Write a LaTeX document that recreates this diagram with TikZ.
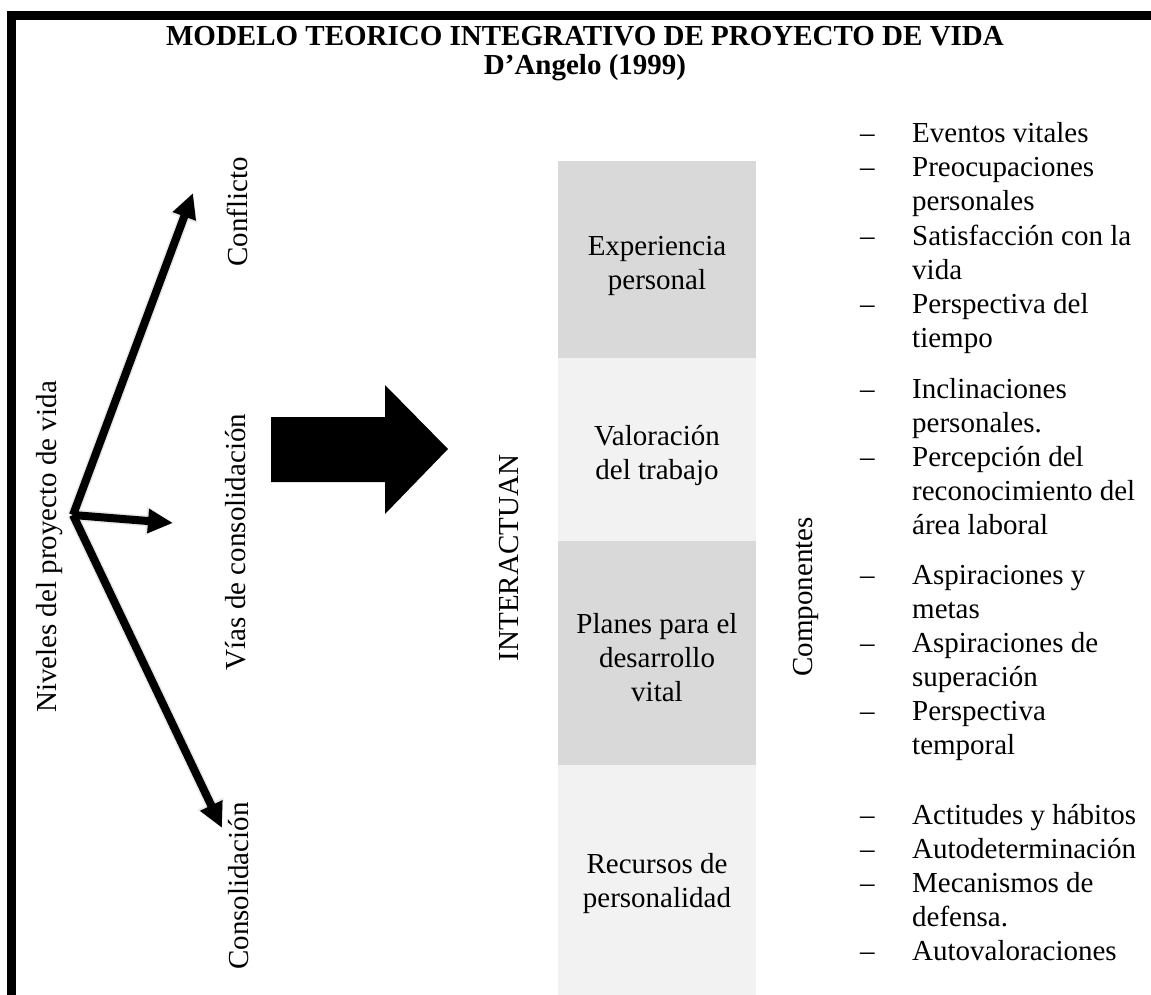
\documentclass[tikz,border=0pt]{standalone}
\usepackage{fontspec}
\setmainfont{Liberation Serif}[BoldFont={Liberation Serif Bold}]
\usetikzlibrary{arrows.meta}
\definecolor{boxdark}{HTML}{D9D9D9}
\definecolor{boxlight}{HTML}{F2F2F2}
\newcommand{\lines}[1]{\begin{tabular}[t]{@{}l@{}}#1\end{tabular}}
\begin{document}
\begin{tikzpicture}[x=1pt,y=-1pt,
  txt/.style={font=\fontsize{29}{34}\selectfont, inner sep=0pt},
  vlabel/.style={txt, rotate=90, anchor=base},
  panel/.style={minimum width=198pt, inner sep=0pt, draw=none},
  plabel/.style={txt, align=center},
  dashm/.style={txt, anchor=base west},
  itemt/.style={txt, anchor=base west},
  titlet/.style={font=\bfseries\fontsize{29}{26}\selectfont, inner sep=0pt, anchor=base},
  thinarrow/.style={line width=8pt, -{Triangle[length=25pt,width=23pt]}},
  shadowarrow/.style={line width=11pt, draw=black!20, -{Triangle[length=27pt,width=27pt]}}
]
\useasboundingbox (0,0) rectangle (1151,995);
% frame
\fill (7,11) rectangle (16,995);
\fill (7,11) rectangle (1151,20);
% title
\node[titlet] (title) at (585,46) {MODELO TEORICO INTEGRATIVO DE PROYECTO DE VIDA};
\node[titlet] (author) at (585,75) {D’Angelo (1999)};
% left labels
\node[vlabel] (niveles) at (56,547) {Niveles del proyecto de vida};
\node[vlabel] (conflicto) at (247,212) {Conflicto};
\node[vlabel] (vias) at (245,542) {Vías de consolidación};
\node[vlabel] (consol) at (248,886) {Consolidación};
% arrows
\coordinate (O) at (73,515);
\coordinate (tC) at (193,193);
\coordinate (tV) at (173,523);
\coordinate (tS) at (222,828);
\begin{scope}[opacity=0.45, xshift=-3pt, yshift=-3pt]
\draw[shadowarrow] (O) -- (tC);
\draw[shadowarrow] (O) -- (tV);
\draw[shadowarrow] (O) -- (tS);
\end{scope}
\draw[thinarrow] (O) -- (tC);
\draw[thinarrow] (O) -- (tV);
\draw[thinarrow] (O) -- (tS);
% big arrow
\fill (271,417) -- (385,417) -- (385,385) -- (448,449) -- (385,514) -- (385,482) -- (271,482) -- cycle;
% middle labels
\node[vlabel] (inter) at (518,558) {INTERACTUAN};
\node[vlabel] (comp) at (812,597) {Componentes};
% panels
\node[panel, fill=boxdark, minimum height=197pt] (b1) at (657,259.5) {};
\node[panel, fill=boxlight, minimum height=183pt] (b2) at (657,449.5) {};
\node[panel, fill=boxdark, minimum height=224pt] (b3) at (657,653) {};
\node[panel, fill=boxlight, minimum height=230pt] (b4) at (657,880) {};
\node[plabel] (l1) at ([yshift=-6pt]b1.center) {Experiencia\\personal};
\node[plabel] (l2) at ([yshift=-6pt]b2.center) {Valoración\\del trabajo};
\node[plabel] (l3) at ([yshift=-5pt]b3.center) {Planes para el\\desarrollo\\vital};
\node[plabel] (l4) at ([yshift=-4pt]b4.center) {Recursos de\\personalidad};
% component lists
\node[dashm] (d1) at (860,143) {–};
\node[itemt] (c1) at (912,143) {Eventos vitales};
\node[dashm] (d2) at (860,177) {–};
\node[itemt] (c2) at (912,177) {\lines{Preocupaciones\\personales}};
\node[dashm] (d3) at (860,245) {–};
\node[itemt] (c3) at (912,245) {\lines{Satisfacción con la\\vida}};
\node[dashm] (d4) at (860,313) {–};
\node[itemt] (c4) at (912,313) {\lines{Perspectiva del\\tiempo}};
\node[dashm] (d5) at (860,398) {–};
\node[itemt] (c5) at (912,398) {\lines{Inclinaciones\\personales.}};
\node[dashm] (d6) at (860,466) {–};
\node[itemt] (c6) at (912,466) {\lines{Percepción del\\reconocimiento del\\área laboral}};
\node[dashm] (d7) at (860,584) {–};
\node[itemt] (c7) at (912,584) {\lines{Aspiraciones y\\metas}};
\node[dashm] (d8) at (860,652) {–};
\node[itemt] (c8) at (912,652) {\lines{Aspiraciones de\\superación}};
\node[dashm] (d9) at (860,720) {–};
\node[itemt] (c9) at (912,720) {\lines{Perspectiva\\temporal}};
\node[dashm] (d10) at (860,824) {–};
\node[itemt] (c10) at (912,824) {Actitudes y hábitos};
\node[dashm] (d11) at (860,858) {–};
\node[itemt] (c11) at (912,858) {Autodeterminación};
\node[dashm] (d12) at (860,892) {–};
\node[itemt] (c12) at (912,892) {\lines{Mecanismos de\\defensa.}};
\node[dashm] (d13) at (860,960) {–};
\node[itemt] (c13) at (912,960) {Autovaloraciones};
\end{tikzpicture}
\end{document}
